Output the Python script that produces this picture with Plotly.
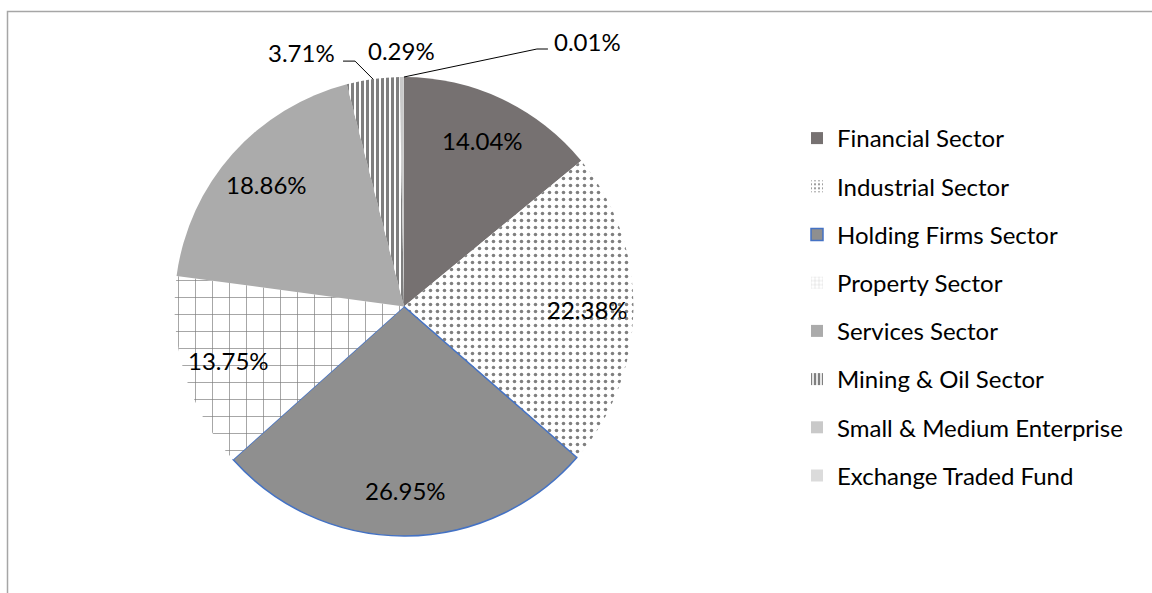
import math
import plotly.graph_objects as go

# ---- data ----
sectors = ["Financial Sector", "Industrial Sector", "Holding Firms Sector", "Property Sector",
           "Services Sector", "Mining & Oil Sector", "Small & Medium Enterprise", "Exchange Traded Fund"]
shares = [14.04, 22.38, 26.95, 13.75, 18.86, 3.71, 0.29, 0.01]

# ---- styles ----
fills = ["#767171", "#ffffff", "#8f8f8f", "#ffffff", "#ababab", "#ffffff", "#c9c9c9", "#dbdbdb"]
pat_shapes = ["", ".", "", "+", "", "|", "", ""]
pat_sizes = [8, 7, 8, 17, 8, 5, 8, 8]
pat_solid = [0.3, 0.2, 0.3, 0.08, 0.3, 0.6, 0.3, 0.3]
line_colors = ["#767171", "#ffffff", "#4472C4", "#ffffff", "#ababab", "#ffffff", "#c9c9c9", "#dbdbdb"]
line_widths = [0, 0, 1.5, 0, 0, 0, 0, 0]
inside = [True, True, True, True, True, False, False, False]

W, H = 1152, 593
CX, CY, R = 404, 306.5, 229.5  # pie centre / radius in px (from top-left)
LABEL_R = 0.80                 # inside labels sit at this fraction of the radius
FONT = "Lato"
FS = 24

fig = go.Figure()
fig.add_trace(go.Pie(
    labels=sectors, values=shares, sort=False, direction="clockwise", rotation=0,
    textinfo="none",
    marker=dict(colors=fills,
                line=dict(color=line_colors, width=line_widths),
                pattern=dict(shape=pat_shapes, size=pat_sizes, solidity=pat_solid,
                             fgcolor="#000000", fillmode="overlay")),
    domain=dict(x=[(CX - R) / W, (CX + R) / W], y=[(H - CY - R) / H, (H - CY + R) / H]),
    showlegend=False, hoverinfo="label+percent",
))

# legend proxies (patterned squares) so entries can be spaced like the original
for i, name in enumerate(sectors):
    fig.add_trace(go.Bar(
        x=[None], y=[None], name=name, legendgroup=name,
        marker=dict(color=fills[i],
                    line=dict(color=line_colors[i] if line_widths[i] else fills[i],
                              width=line_widths[i]),
                    pattern=dict(shape=pat_shapes[i], size=min(pat_sizes[i], 5),
                                 solidity=pat_solid[i], fgcolor="#000000")),
    ))

total = sum(shares)
cum = 0.0
mids = []
for v in shares:
    mids.append((cum + v / 2) / total * 2 * math.pi)
    cum += v


def px2paper(x, y):
    return x / W, 1 - y / H


shapes = []
annots = []
font = dict(family=FONT, size=FS, color="#000000")

# inside labels at the slice mid-angles
for idx, v in enumerate(shares):
    if not inside[idx]:
        continue
    a = mids[idx]
    lx, ly = px2paper(CX + LABEL_R * R * math.sin(a), CY - LABEL_R * R * math.cos(a))
    annots.append(dict(x=lx, y=ly, xref="paper", yref="paper", text=f"{v:.2f}%",
                       showarrow=False, xanchor="center", yanchor="middle", font=font))

# outside labels with leader lines
leaders = {5: (-18, -18, -12, "right"), 6: None, 7: (133, -28, 11, "left")}
for idx in (5, 6, 7):
    a = mids[idx]
    px = CX + R * math.sin(a)
    py = CY - R * math.cos(a)
    txt = f"{shares[idx]:.2f}%"
    spec = leaders[idx]
    if spec is None:
        lx, ly = px2paper(px, py - 27)
        annots.append(dict(x=lx, y=ly, xref="paper", yref="paper", text=txt, showarrow=False,
                           xanchor="center", yanchor="middle", font=font))
        continue
    dx, dy, hseg, side = spec
    ex, ey = px + dx, py + dy
    tx = ex + hseg
    p0 = px2paper(px, py); p1 = px2paper(ex, ey); p2 = px2paper(tx, ey)
    shapes.append(dict(type="path", xref="paper", yref="paper",
                       path=f"M {p0[0]},{p0[1]} L {p1[0]},{p1[1]} L {p2[0]},{p2[1]}",
                       line=dict(color="#000000", width=1)))
    if side == "right":
        lx, ly = px2paper(tx - 6, ey - 9)
        xa = "right"
    else:
        lx, ly = px2paper(tx + 4, ey - 8)
        xa = "left"
    annots.append(dict(x=lx, y=ly, xref="paper", yref="paper", text=txt, showarrow=False,
                       xanchor=xa, yanchor="middle", font=font))

# chart border
shapes.append(dict(type="rect", xref="paper", yref="paper", x0=7.5 / W, y0=-0.05, x1=1.05, y1=1 - 11.5 / H,
                   line=dict(color="#a6a6a6", width=1.5), fillcolor="rgba(0,0,0,0)", layer="below"))

fig.update_layout(
    width=W, height=H, margin=dict(l=0, r=0, t=0, b=0),
    paper_bgcolor="#ffffff", plot_bgcolor="#ffffff",
    xaxis=dict(visible=False), yaxis=dict(visible=False),
    shapes=shapes, annotations=annots,
    legend=dict(x=797 / W, xanchor="left", y=1 - 116 / H, yanchor="top",
                font=font, tracegroupgap=14, traceorder="grouped", bgcolor="rgba(0,0,0,0)"),
    showlegend=True,
)

fig.write_html("out.html", config={"displayModeBar": False},
               post_script="document.body.style.margin='0';")
